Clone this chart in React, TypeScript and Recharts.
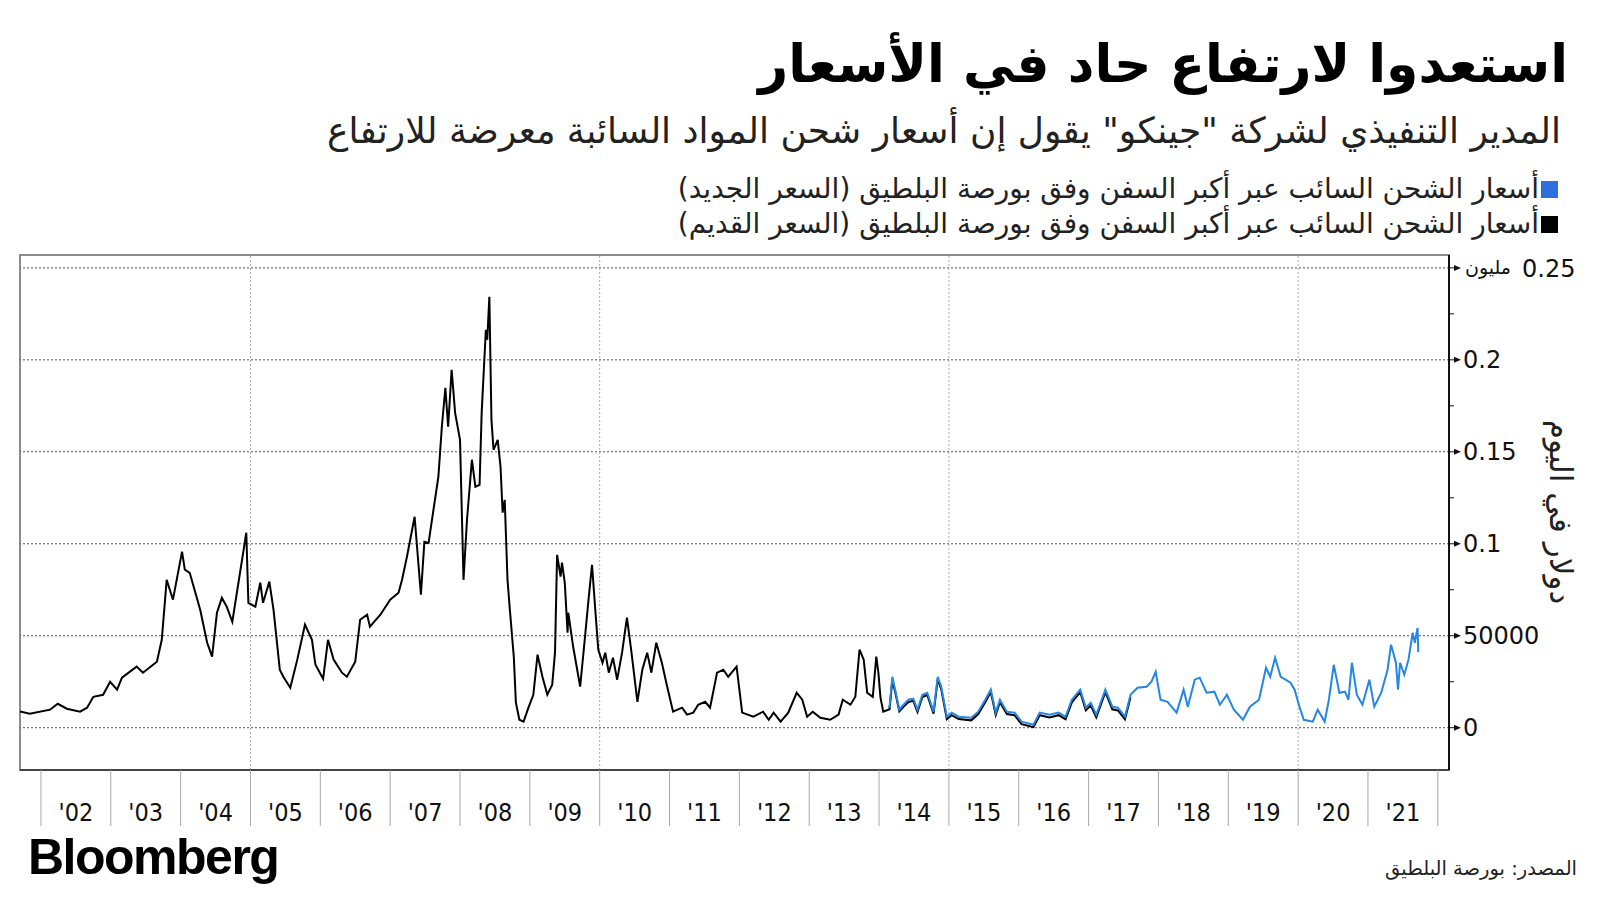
import { LineChart, Line, XAxis, YAxis, ReferenceLine, ReferenceArea } from "recharts"

// old Baltic capesize index (black), decimal year -> usd/day
const oldYears = [
  2001.7, 2001.84, 2002.13, 2002.24, 2002.37, 2002.56, 2002.66, 2002.75, 2002.89, 2002.99,
  2003.09, 2003.16, 2003.37, 2003.46, 2003.66, 2003.73, 2003.8, 2003.89, 2004.02, 2004.06,
  2004.13, 2004.28, 2004.38, 2004.45, 2004.52, 2004.59, 2004.66, 2004.74, 2004.85, 2004.94,
  2004.97, 2005.07, 2005.14, 2005.18, 2005.27, 2005.33, 2005.42, 2005.47, 2005.57, 2005.67,
  2005.78, 2005.88, 2005.93, 2006.04, 2006.11, 2006.19, 2006.31, 2006.38, 2006.5, 2006.57,
  2006.67, 2006.71, 2006.86, 2007.0, 2007.12, 2007.17, 2007.24, 2007.35, 2007.44, 2007.49,
  2007.55, 2007.62, 2007.69, 2007.74, 2007.79, 2007.83, 2007.88, 2007.93, 2008.0, 2008.05,
  2008.1, 2008.17, 2008.22, 2008.28, 2008.31, 2008.37, 2008.39, 2008.42, 2008.45, 2008.48,
  2008.54, 2008.58, 2008.61, 2008.64, 2008.68, 2008.71, 2008.77, 2008.8, 2008.85, 2008.91,
  2008.98, 2009.05, 2009.11, 2009.18, 2009.25, 2009.32, 2009.36, 2009.39, 2009.44, 2009.46,
  2009.5, 2009.54, 2009.55, 2009.62, 2009.72, 2009.79, 2009.84, 2009.89, 2009.94, 2009.98,
  2010.04, 2010.08, 2010.13, 2010.19, 2010.25, 2010.32, 2010.39, 2010.45, 2010.54, 2010.61,
  2010.68, 2010.74, 2010.81, 2010.89, 2010.96, 2011.05, 2011.18, 2011.25, 2011.34, 2011.41,
  2011.51, 2011.58, 2011.68, 2011.77, 2011.84, 2011.96, 2012.04, 2012.2, 2012.34, 2012.42,
  2012.49, 2012.59, 2012.7, 2012.82, 2012.9, 2012.97, 2013.05, 2013.16, 2013.3, 2013.42,
  2013.48, 2013.59, 2013.66, 2013.72, 2013.78, 2013.83, 2013.91, 2013.96, 2013.99, 2014.02,
  2014.06, 2014.15, 2014.19, 2014.23, 2014.29, 2014.35, 2014.42, 2014.49, 2014.55, 2014.62,
  2014.69, 2014.78, 2014.84, 2014.89, 2014.97, 2015.04, 2015.14, 2015.32, 2015.42, 2015.52,
  2015.6, 2015.67, 2015.73, 2015.83, 2015.94, 2016.04, 2016.21, 2016.3, 2016.44, 2016.57,
  2016.67, 2016.76, 2016.88, 2016.96, 2017.03, 2017.11, 2017.24, 2017.34, 2017.42, 2017.52,
  2017.6,
]
const oldValues = [
  8860, 7600, 9800, 13000, 10300, 8700, 10900, 16800, 17900, 25000,
  20700, 27200, 33200, 29900, 35900, 47800, 80400, 69600, 95700, 85900,
  84200, 64100, 46200, 38600, 62500, 70600, 65800, 57600, 84200, 106000,
  67900, 65800, 78800, 67900, 79400, 64100, 31500, 27700, 21700, 37000,
  56000, 47800, 34200, 26600, 47800, 37000, 29900, 27700, 35900, 58700,
  61400, 54900, 61400, 69600, 73400, 80400, 92900, 114700, 72300, 101100,
  100500, 118500, 136400, 163600, 184800, 163600, 194600, 171200, 156500, 80400,
  113000, 145700, 131000, 132000, 171200, 216300, 210900, 234300, 167400, 151100,
  156500, 141900, 116900, 123900, 80400, 65800, 38600, 13600, 4300, 3300,
  10900, 17900, 39700, 27700, 17900, 23400, 40800, 94000, 82100, 89700,
  78800, 51600, 62500, 44000, 22300, 49500, 69600, 88600, 62500, 42400,
  35300, 40800, 29900, 38000, 26100, 40800, 59800, 42400, 14100, 31500,
  40800, 29900, 46200, 35300, 23400, 8700, 10900, 7100, 8200, 12500,
  14100, 10900, 29900, 31500, 27700, 33200, 8200, 6000, 8700, 4300,
  8200, 3300, 8200, 19000, 15200, 6000, 8700, 5400, 4300, 7100,
  15200, 12500, 16800, 42400, 37000, 19000, 16800, 38600, 29900, 16300,
  8700, 10000, 26000, 19500, 8800, 11300, 14000, 14600, 8600, 16700,
  17800, 7600, 26400, 21000, 4600, 6800, 4700, 4000, 7400, 13800,
  19400, 6900, 13900, 7400, 6800, 1900, 300, 6800, 5600, 6800,
  4600, 13800, 19400, 9400, 12200, 5600, 19300, 10000, 9400, 4600,
  16600,
]

// new Baltic capesize index (blue)
const newYears = [
  2014.13, 2014.15, 2014.19, 2014.23, 2014.29, 2014.35, 2014.42, 2014.49, 2014.55, 2014.62,
  2014.69, 2014.78, 2014.84, 2014.89, 2014.97, 2015.04, 2015.14, 2015.32, 2015.42, 2015.52,
  2015.6, 2015.67, 2015.73, 2015.83, 2015.94, 2016.04, 2016.21, 2016.3, 2016.44, 2016.57,
  2016.67, 2016.76, 2016.88, 2016.96, 2017.03, 2017.11, 2017.24, 2017.34, 2017.42, 2017.52,
  2017.6, 2017.7, 2017.83, 2017.9, 2017.96, 2018.03, 2018.13, 2018.26, 2018.36, 2018.42,
  2018.52, 2018.59, 2018.69, 2018.8, 2018.88, 2018.98, 2019.08, 2019.21, 2019.31, 2019.44,
  2019.54, 2019.6, 2019.67, 2019.75, 2019.82, 2019.89, 2019.95, 2020.01, 2020.08, 2020.21,
  2020.28, 2020.38, 2020.44, 2020.51, 2020.59, 2020.67, 2020.72, 2020.77, 2020.84, 2020.92,
  2021.02, 2021.09, 2021.19, 2021.28, 2021.33, 2021.4, 2021.43, 2021.46, 2021.52, 2021.58,
  2021.64, 2021.67, 2021.71, 2021.72,
]
const newValues = [
  11000, 11400, 27700, 20700, 9800, 12500, 15200, 15800, 9800, 17900,
  19000, 8700, 27700, 22300, 6000, 8200, 6000, 5400, 8700, 15200,
  20700, 8200, 15200, 8700, 8200, 3300, 1600, 8200, 7100, 8200,
  6000, 15200, 20700, 10900, 13600, 7100, 20700, 11400, 10900, 6000,
  17900, 21700, 22300, 25000, 30400, 15200, 14100, 8200, 20700, 11400,
  26100, 27200, 19000, 19600, 12500, 17900, 9800, 4300, 11400, 15200,
  32600, 27700, 38000, 27700, 26100, 24500, 20700, 12500, 4300, 3300,
  9800, 3300, 15200, 34200, 19000, 19600, 15200, 35300, 17900, 12500,
  26100, 11400, 19000, 31500, 45100, 35300, 20700, 35300, 28800, 37000,
  51600, 46200, 54300, 41000,
]

const yearTicks = [
  2002, 2003, 2004, 2005, 2006, 2007, 2008, 2009, 2010, 2011, 2012,
  2013, 2014, 2015, 2016, 2017, 2018, 2019, 2020, 2021, 2022,
]
const gridYears = [2005, 2010, 2015, 2020]
const majorTicks = [0, 50000, 100000, 150000, 200000, 250000]
const majorLabels = ["0", "50000", "0.1", "0.15", "0.2", "0.25"]
const minorTicks = [25000, 75000, 125000, 175000, 225000]
const xDomain = [2001.7, 2022.16]
const yDomain = [-23000, 257000]

const oldSeries = oldYears.map((x, i) => ({ x, v: oldValues[i] }))
const newSeries = newYears.map((x, i) => ({ x, v: newValues[i] }))

const W = 1600
const H = 900
const M = { top: 255, right: 0, bottom: 0, left: 20 }
const Y_AXIS_W = 151
const X_AXIS_H = 130
const plotW = W - M.left - Y_AXIS_W
const halfYear = plotW / (xDomain[1] - xDomain[0]) / 2

const arabic = "'DejaVu Sans', sans-serif"
const narrow = "'Liberation Sans Narrow', 'DejaVu Sans Condensed', sans-serif"

function XTick(props: any) {
  const { x, y, payload } = props
  const yr = payload.value as number
  return (
    <g>
      <line x1={x} x2={x} y1={y} y2={y + 56} stroke="#a8a8a8" strokeWidth={1} />
      {yr < 2022 && (
        <text x={x + halfYear} y={y + 51} textAnchor="middle" fontSize={25} fontFamily={narrow} fill="#111">
          {"'" + String(yr).slice(2)}
        </text>
      )}
    </g>
  )
}

function YTick(props: any) {
  const { x, y, payload } = props
  const v = payload.value as number
  const i = majorTicks.indexOf(v)
  if (i < 0) {
    return <line x1={x} x2={x + 5} y1={y} y2={y} stroke="#111" strokeWidth={1} />
  }
  const isTop = v === 250000
  return (
    <g>
      <line x1={x} x2={x + 8} y1={y} y2={y} stroke="#111" strokeWidth={1} />
      <path d={`M${x + 5} ${y - 3} L${x + 12} ${y} L${x + 5} ${y + 3} Z`} fill="#111" />
      {isTop && (
        <text x={x + 16} y={y} dy="0.3em" fontSize={19} fontFamily={arabic} fill="#111" textAnchor="start">
          مليون
        </text>
      )}
      <text x={isTop ? x + 73 : x + 14} y={y} dy="0.36em" fontSize={24} fontFamily={arabic} fill="#111">
        {majorLabels[i]}
      </text>
    </g>
  )
}

export default function App() {
  return (
    <div style={{ position: "absolute", left: 0, top: 0, width: W, height: H, background: "#fff", overflow: "hidden" }}>
      <div
        style={{
          position: "absolute", right: 32, top: 29, direction: "rtl", fontFamily: arabic,
          fontWeight: "bold", fontSize: 52, lineHeight: "70px", color: "#000", whiteSpace: "nowrap",
        }}
      >
        استعدوا لارتفاع حاد في الأسعار
      </div>
      <div
        style={{
          position: "absolute", right: 39, top: 108, direction: "rtl", fontFamily: arabic,
          fontSize: 36, lineHeight: "46px", color: "#222", whiteSpace: "nowrap",
        }}
      >
        المدير التنفيذي لشركة "جينكو" يقول إن أسعار شحن المواد السائبة معرضة للارتفاع
      </div>
      {[
        { color: "#2d6fdc", label: "أسعار الشحن السائب عبر أكبر السفن وفق بورصة البلطيق (السعر الجديد)", top: 171 },
        { color: "#000", label: "أسعار الشحن السائب عبر أكبر السفن وفق بورصة البلطيق (السعر القديم)", top: 206 },
      ].map((l) => (
        <div
          key={l.top}
          style={{
            position: "absolute", right: 42, top: l.top, direction: "rtl", fontFamily: arabic,
            fontSize: 28, lineHeight: "36px", color: "#222", whiteSpace: "nowrap",
            display: "flex", alignItems: "center",
          }}
        >
          <span style={{ display: "inline-block", width: 17, height: 17, background: l.color, marginLeft: 2 }} />
          <span>{l.label}</span>
        </div>
      ))}

      <div style={{ position: "absolute", left: 0, top: 0 }}>
        <LineChart width={W} height={H} margin={M}>
          <XAxis
            dataKey="x"
            type="number"
            domain={xDomain}
            ticks={yearTicks}
            interval={0}
            allowDataOverflow
            height={X_AXIS_H}
            axisLine={{ stroke: "#444", strokeWidth: 2 }}
            tickLine={false}
            tickSize={0}
            tickMargin={0}
            tick={<XTick />}
          />
          <YAxis
            orientation="right"
            type="number"
            domain={yDomain}
            ticks={[...majorTicks, ...minorTicks].sort((a, b) => a - b)}
            interval={0}
            allowDataOverflow
            width={Y_AXIS_W}
            axisLine={{ stroke: "#111", strokeWidth: 2 }}
            tickLine={false}
            tickSize={0}
            tickMargin={0}
            tick={<YTick />}
          />
          <ReferenceArea
            x1={xDomain[0]} x2={xDomain[1]} y1={yDomain[0]} y2={yDomain[1]}
            fill="none" fillOpacity={0} stroke="#8c8c8c" strokeWidth={2} ifOverflow="visible"
          />
          {majorTicks.map((t) => (
            <ReferenceLine key={"h" + t} y={t} stroke="#555" strokeWidth={1} strokeDasharray="2 2" />
          ))}
          {gridYears.map((g) => (
            <ReferenceLine key={"v" + g} x={g} stroke="#aaa" strokeWidth={1} strokeDasharray="2 2" />
          ))}
          <Line
            data={oldSeries} dataKey="v" type="linear" stroke="#000" strokeWidth={2}
            dot={false} activeDot={false} isAnimationActive={false}
          />
          <Line
            data={newSeries} dataKey="v" type="linear" stroke="#2586e4" strokeWidth={2}
            dot={false} activeDot={false} isAnimationActive={false}
          />
        </LineChart>
      </div>

      <div
        style={{
          position: "absolute", left: 1560, top: 512, transform: "translate(-50%, -50%) rotate(90deg)",
          direction: "rtl", fontFamily: arabic, fontSize: 31, lineHeight: 1, color: "#222", whiteSpace: "nowrap",
        }}
      >
        دولار في اليوم
      </div>

      <div
        style={{
          position: "absolute", left: 28, top: 828, fontFamily: "'Liberation Sans', Arial, sans-serif",
          fontWeight: "bold", fontSize: 50, letterSpacing: -1.5, lineHeight: "58px", color: "#000",
        }}
      >
        Bloomberg
      </div>
      <div
        style={{
          position: "absolute", right: 23, top: 855, direction: "rtl", fontFamily: arabic,
          fontSize: 19.5, lineHeight: "28px", color: "#222", whiteSpace: "nowrap",
        }}
      >
        المصدر: بورصة البلطيق
      </div>
    </div>
  )
}
